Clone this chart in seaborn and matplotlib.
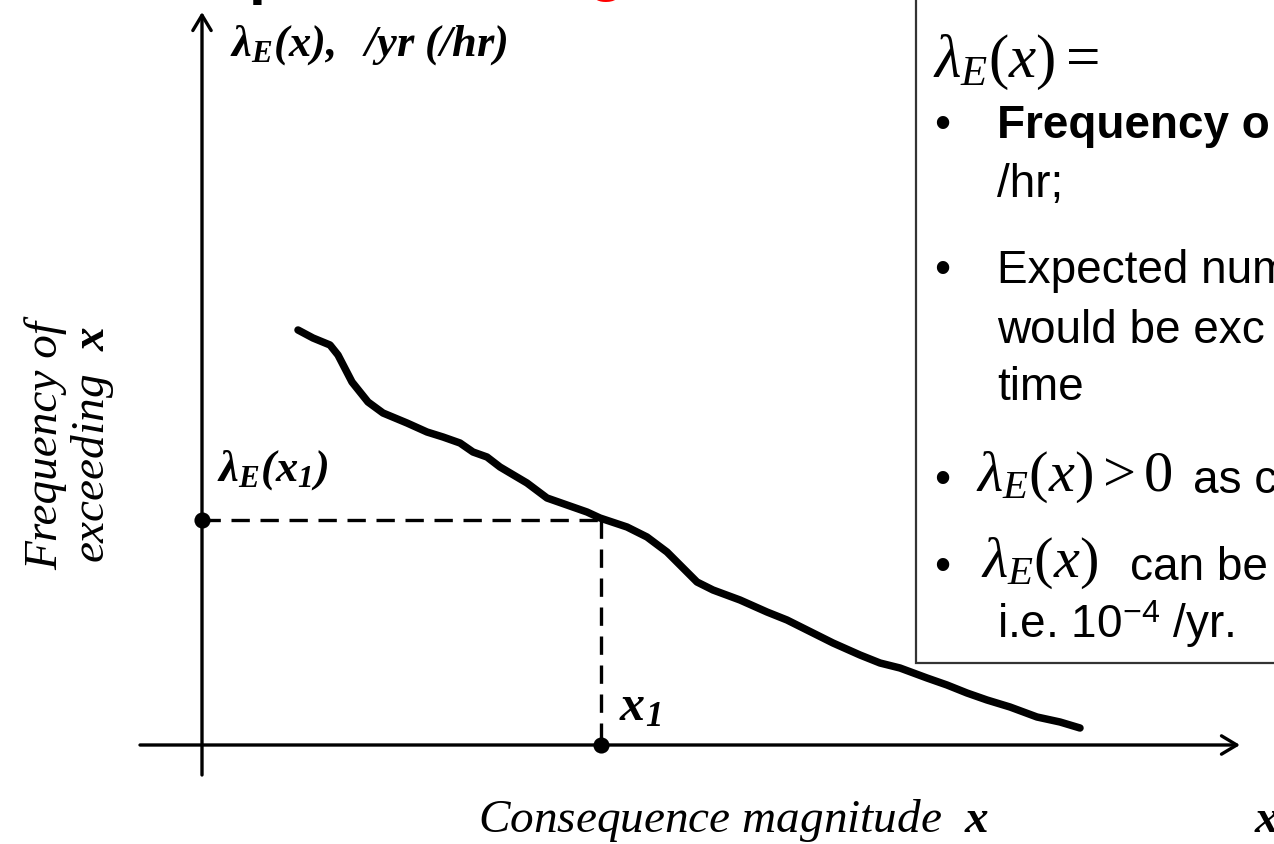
import numpy as np
import pandas as pd
import matplotlib
matplotlib.use("Agg")
import matplotlib.pyplot as plt
from matplotlib import font_manager as fm
from matplotlib.patches import Rectangle
import seaborn as sns

# Exceedance-frequency curve lambda_E(x) (x = consequence magnitude)
curve_x = [0.96, 1.11, 1.28, 1.36, 1.50, 1.66, 1.81, 2.05, 2.25, 2.41, 2.58, 2.71,
           2.85, 2.98, 3.25, 3.45, 3.65, 3.85, 3.98, 4.25, 4.45, 4.65, 4.78, 4.95,
           5.11, 5.38, 5.65, 5.85, 6.05, 6.31, 6.58, 6.78, 6.98, 7.25, 7.45, 7.65,
           7.85, 8.08, 8.35, 8.58, 8.78]
curve_y = [4.15, 4.07, 4.00, 3.90, 3.63, 3.43, 3.32, 3.22, 3.13, 3.08, 3.02, 2.93,
           2.88, 2.78, 2.62, 2.47, 2.40, 2.33, 2.27, 2.18, 2.08, 1.93, 1.80, 1.63,
           1.55, 1.45, 1.33, 1.25, 1.15, 1.02, 0.90, 0.82, 0.77, 0.67, 0.60, 0.52,
           0.45, 0.38, 0.28, 0.23, 0.17]

# Highlighted point on the curve
x1 = 3.99
lam_x1 = 2.25

# Axis extents
x_axis = [-0.62, 10.38]
y_axis = [-0.30, 7.33]

curve = pd.DataFrame({"x": curve_x, "lam": curve_y})


def pick_font(names, default):
    for n in names:
        try:
            fm.findfont(fm.FontProperties(family=n), fallback_to_default=False)
            return n
        except Exception:
            pass
    return default


sns.set_theme(style="white")
SANS = pick_font(["Liberation Sans Narrow", "DejaVu Sans Condensed"], "Liberation Sans")
SERIF = "Liberation Serif"
plt.rcParams["font.family"] = [SERIF, "DejaVu Serif"]
plt.rcParams["text.color"] = "black"
plt.rcParams["mathtext.fontset"] = "custom"
plt.rcParams["mathtext.rm"] = SERIF
plt.rcParams["mathtext.it"] = SERIF + ":italic"
plt.rcParams["mathtext.bf"] = SERIF + ":bold"
plt.rcParams["mathtext.bfit"] = SERIF + ":italic:bold"
plt.rcParams["mathtext.sf"] = SANS

W, H = 1274, 844
fig = plt.figure(figsize=(W / 100, H / 100), dpi=100)
fig.patch.set_facecolor("white")
ax = fig.add_axes([0, 0, 1, 1])
ax.set_xlim(-2.02, 10.72)
ax.set_ylim(-0.99, 7.45)
ax.axis("off")


def fp(xp, yp):
    """figure-fraction position from pixel offsets (top-left origin)"""
    return xp / W, 1 - yp / H


# coordinate axes with open arrow heads
arrow = dict(arrowstyle="->, head_length=0.5, head_width=0.3", lw=2.4,
             color="black", mutation_scale=22, shrinkA=0, shrinkB=0)
ax.annotate("", xy=(0, y_axis[1]), xytext=(0, y_axis[0]), arrowprops=arrow)
ax.annotate("", xy=(x_axis[1], 0), xytext=(x_axis[0], 0), arrowprops=arrow)

# exceedance curve
sns.lineplot(data=curve, x="x", y="lam", ax=ax, color="black", lw=5.4,
             sort=False, estimator=None, zorder=3)

# projection of the marked point onto both axes
dash = (0, (5.5, 3.2))
ax.plot([0, x1], [lam_x1, lam_x1], color="black", lw=2.4, linestyle=dash, zorder=2)
ax.plot([x1, x1], [lam_x1, 0], color="black", lw=2.4, linestyle=dash, zorder=2)
ax.scatter([0, x1], [lam_x1, 0], s=135, color="black", zorder=4, linewidths=0)

# axis annotations
fig.text(*fp(230, 45), r"$\mathbfit{\lambda_E(x),\ \ /yr\ (/hr)}$", fontsize=32,
         ha="left", va="center")
fig.text(*fp(217, 470), r"$\mathbfit{\lambda_E(x_1)}$", fontsize=32,
         ha="left", va="center")
fig.text(*fp(619, 708), r"$\mathbfit{x_1}$", fontsize=36, ha="left", va="center")
fig.text(*fp(478, 832), r"Consequence magnitude  $\mathbfit{x}$", fontsize=34,
         style="italic", ha="left", va="baseline")
fig.text(*fp(1254, 832), r"$\mathbfit{x}$", fontsize=34, ha="left", va="baseline")
fig.text(*fp(70, 445), "Frequency of\nexceeding  $\\mathbfit{x}$", fontsize=34,
         style="italic", rotation=90, ha="center", va="center", linespacing=1.05,
         multialignment="center")

# partially visible slide heading
fig.text(*fp(249, -8), "p", fontsize=44, fontweight="bold", color="black",
         family=SANS, ha="left", va="baseline")
fig.text(*fp(588, -11), "g", fontsize=44, fontweight="bold", color="#ff0000",
         family=SANS, ha="left", va="baseline")

# definition box
box = Rectangle((7.14, 0.82), 3.8, 7.0, facecolor="white", edgecolor="#333333",
                lw=1.6, zorder=1)
ax.add_patch(box)

fig.text(*fp(933, 62), r"$\lambda_E(x) =$", fontsize=44, ha="left", va="center")

sans = dict(family=SANS, fontsize=33, ha="left", va="baseline", color="black")
for yb in (138, 283, 493, 580):
    fig.text(*fp(934, yb), "\u2022", **sans)
fig.text(*fp(997, 138), "Frequency o", fontweight="bold", **sans)
fig.text(*fp(997, 197), "/hr;", **sans)
fig.text(*fp(997, 283), "Expected num", **sans)
fig.text(*fp(997, 343), "would be exc", **sans)
fig.text(*fp(997, 400), "time", **sans)
fig.text(*fp(976, 477), r"$\lambda_E(x) > 0$", fontsize=42, ha="left", va="center")
fig.text(*fp(1193, 493), "as c", **sans)
fig.text(*fp(981, 563), r"$\lambda_E(x)$", fontsize=42, ha="left", va="center")
fig.text(*fp(1130, 580), "can be", **sans)
fig.text(*fp(997, 638), r"i.e. 10$^{\mathsf{-4}}$ /yr.", **sans)

fig.savefig("out.png", dpi=100, facecolor="white")
